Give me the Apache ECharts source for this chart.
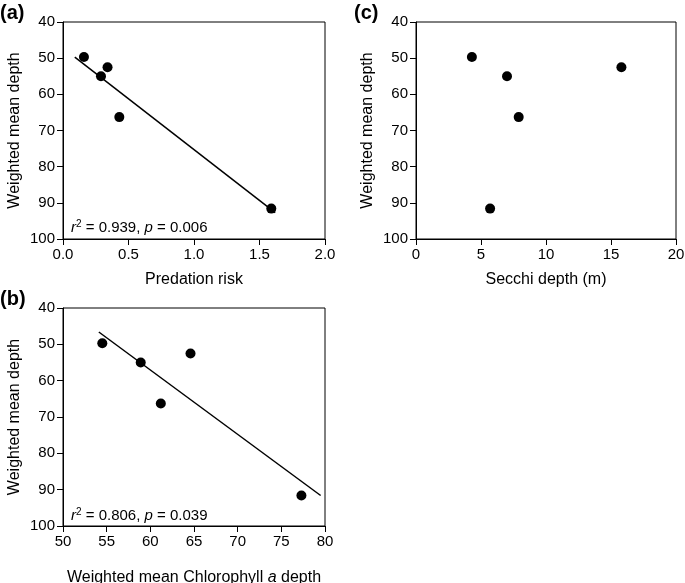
<!DOCTYPE html>
<html><head><meta charset="utf-8">
<script src="https://cdn.jsdelivr.net/npm/echarts@6/dist/echarts.min.js"></script>
<style>html,body{margin:0;padding:0;background:#fff}#c{width:685px;height:583px}</style>
</head><body><div id="c"></div>
<script>
// Panel (a): Predation risk vs weighted mean depth
var predRisk = [0.16, 0.29, 0.34, 0.43, 1.59];
var depthA   = [49.7, 55.0, 52.5, 66.3, 91.6];
var fitA     = [[0.09, 49.7], [1.62, 92.7]];
// Panel (b): Weighted mean Chlorophyll a depth vs weighted mean depth
var chlDepth = [54.5, 58.9, 64.6, 61.2, 77.3];
var depthB   = [49.7, 55.0, 52.5, 66.3, 91.6];
var fitB     = [[54.1, 46.6], [79.5, 91.6]];
// Panel (c): Secchi depth vs weighted mean depth
var secchi   = [4.3, 7.0, 15.8, 7.9, 5.7];
var depthC   = [49.7, 55.0, 52.5, 66.3, 91.6];

var yTicks = [40, 50, 60, 70, 80, 90, 100];

function pairs(xs, ys){ return xs.map(function(x,i){ return [x, ys[i]]; }); }

var FONT = 'Liberation Sans, Arial, sans-serif';
function xAx(idx, min, max, interval, name, gap, fmt){
  return {
    type:'value', gridIndex:idx, min:min, max:max, interval:interval,
    name:name, nameLocation:'middle', nameGap:gap,
    nameTextStyle:{color:'#000', fontSize:16, fontFamily:FONT,
      rich:{i:{fontStyle:'italic', fontSize:16, fontFamily:FONT, color:'#000'}}},
    axisLine:{show:true, lineStyle:{color:'#000', width:1}},
    axisTick:{show:true, length:6, lineStyle:{color:'#000'}},
    axisLabel:{color:'#000', fontSize:15, fontFamily:FONT, margin:8, formatter:fmt},
    splitLine:{show:false}
  };
}
function yAx(idx){
  return {
    type:'value', gridIndex:idx, min:40, max:100, interval:10, inverse:true,
    name:'Weighted mean depth', nameLocation:'middle', nameGap:40,
    nameTextStyle:{color:'#000', fontSize:16, fontFamily:FONT},
    axisLine:{show:true, lineStyle:{color:'#000', width:1}},
    axisTick:{show:true, length:6, lineStyle:{color:'#000'}},
    axisLabel:{color:'#000', fontSize:15, fontFamily:FONT, margin:8},
    splitLine:{show:false}
  };
}
var gridStyle = {show:true, borderColor:'#000', borderWidth:1, backgroundColor:'transparent',
                 containLabel:false, outerBoundsMode:'none'};
var dot = {color:'#000', opacity:1};
var chart = echarts.init(document.getElementById('c'), null, {renderer:'canvas'});
chart.setOption({
  animation:false,
  backgroundColor:'#fff',
  grid:[
    Object.assign({left:63, top:22, width:262, height:217}, gridStyle),
    Object.assign({left:63, top:308, width:262, height:218}, gridStyle),
    Object.assign({left:416, top:22, width:260, height:217}, gridStyle)
  ],
  xAxis:[
    xAx(0, 0, 2, 0.5, 'Predation risk', 33, function(v){return v.toFixed(1);}),
    xAx(1, 50, 80, 5, 'Weighted mean Chlorophyll {i|a} depth', 44),
    xAx(2, 0, 20, 5, 'Secchi depth (m)', 33)
  ],
  yAxis:[yAx(0), yAx(1), yAx(2)],
  series:[
    {type:'line', xAxisIndex:0, yAxisIndex:0, data:fitA, symbol:'none',
      lineStyle:{color:'#000', width:1.5}, z:1},
    {type:'scatter', xAxisIndex:0, yAxisIndex:0, data:pairs(predRisk, depthA),
      symbolSize:10, itemStyle:dot, z:2},
    {type:'line', xAxisIndex:1, yAxisIndex:1, data:fitB, symbol:'none',
      lineStyle:{color:'#000', width:1.5}, z:1},
    {type:'scatter', xAxisIndex:1, yAxisIndex:1, data:pairs(chlDepth, depthB),
      symbolSize:10, itemStyle:dot, z:2},
    {type:'scatter', xAxisIndex:2, yAxisIndex:2, data:pairs(secchi, depthC),
      symbolSize:10, itemStyle:dot, z:2}
  ],
  graphic:[
    {type:'text', left:0, top:3, style:{text:'(a)', font:'bold 20px '+FONT, fill:'#000'}},
    {type:'text', left:0, top:289, style:{text:'(b)', font:'bold 20px '+FONT, fill:'#000'}},
    {type:'text', left:354, top:3, style:{text:'(c)', font:'bold 20px '+FONT, fill:'#000'}},
    {type:'text', left:71, top:219, style:{
      text:'{i|r}{s|2} = 0.939, {i|p} = 0.006', font:'15px '+FONT, fill:'#000',
      rich:{i:{fontStyle:'italic', fontSize:15, fontFamily:FONT, fill:'#000'},
            s:{fontSize:10, fontFamily:FONT, verticalAlign:'top', padding:[0,0,8,0], fill:'#000'}}}},
    {type:'text', left:71, top:507, style:{
      text:'{i|r}{s|2} = 0.806, {i|p} = 0.039', font:'15px '+FONT, fill:'#000',
      rich:{i:{fontStyle:'italic', fontSize:15, fontFamily:FONT, fill:'#000'},
            s:{fontSize:10, fontFamily:FONT, verticalAlign:'top', padding:[0,0,8,0], fill:'#000'}}}}
  ]
});
</script></body></html>
